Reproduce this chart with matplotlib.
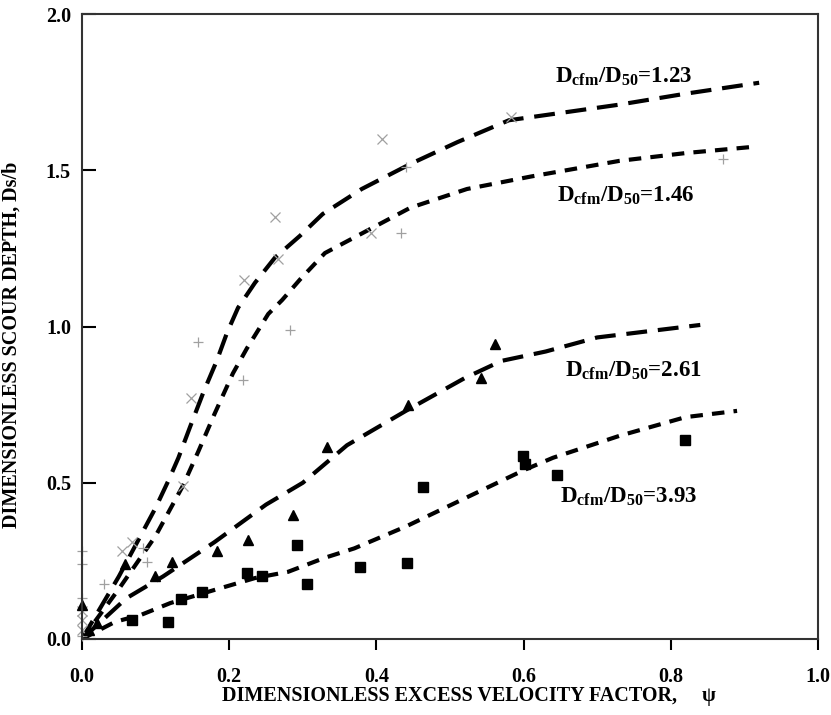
import matplotlib
matplotlib.use("Agg")
import matplotlib.pyplot as plt

plt.rcParams['font.family'] = ['Liberation Serif', 'DejaVu Serif']
plt.rcParams['font.weight'] = 'bold'
plt.rcParams['mathtext.fontset'] = 'custom'
plt.rcParams['mathtext.rm'] = 'Liberation Serif:bold'

# fitted curves, one per Dcfm/D50 ratio
c123_x = [0, 0.05, 0.10, 0.118, 0.131, 0.147, 0.165, 0.183, 0.197, 0.212, 0.235, 0.262,
          0.296, 0.327, 0.38, 0.446, 0.51, 0.58, 0.64, 0.73, 0.82, 0.92]
c123_y = [0, 0.20, 0.42, 0.51, 0.58, 0.68, 0.79, 0.89, 0.98, 1.06, 1.14, 1.22,
          1.29, 1.36, 1.44, 1.52, 1.59, 1.66, 1.68, 1.71, 1.745, 1.78]

c146_x = [0, 0.05, 0.10, 0.137, 0.158, 0.18, 0.205, 0.224, 0.253, 0.272, 0.296, 0.33,
          0.39, 0.446, 0.523, 0.61, 0.73, 0.82, 0.912]
c146_y = [0, 0.16, 0.33, 0.49, 0.60, 0.72, 0.85, 0.93, 1.04, 1.085, 1.15, 1.235,
          1.31, 1.38, 1.44, 1.48, 1.53, 1.555, 1.575]

c261_x = [0, 0.06, 0.11, 0.18, 0.25, 0.30, 0.36, 0.44, 0.52, 0.57, 0.63, 0.70, 0.77, 0.84]
c261_y = [0, 0.13, 0.20, 0.31, 0.43, 0.50, 0.62, 0.73, 0.835, 0.89, 0.92, 0.965, 0.985, 1.005]

c393_x = [0, 0.045, 0.08, 0.12, 0.18, 0.235, 0.28, 0.33, 0.37, 0.44, 0.52, 0.60,
          0.64, 0.73, 0.82, 0.89]
c393_y = [0, 0.055, 0.077, 0.115, 0.157, 0.195, 0.215, 0.26, 0.29, 0.36, 0.45, 0.54,
          0.58, 0.65, 0.71, 0.73]

# measured points
p123_x = [0, 0, 0, 0.054, 0.068, 0.137, 0.148, 0.22, 0.262, 0.266, 0.393, 0.408, 0.583]
p123_y = [0.03, 0.06, 0.09, 0.28, 0.31, 0.49, 0.77, 1.15, 1.35, 1.215, 1.30, 1.60, 1.67]

p146_x = [0, 0, 0, 0, 0.03, 0.083, 0.088, 0.158, 0.219, 0.283, 0.433, 0.44, 0.871]
p146_y = [0.01, 0.13, 0.24, 0.28, 0.176, 0.29, 0.246, 0.95, 0.83, 0.99, 1.30, 1.51, 1.535]

p261_x = [0, 0.01, 0.02, 0.058, 0.099, 0.122, 0.183, 0.226, 0.287, 0.333, 0.443, 0.542, 0.561]
p261_y = [0.11, 0.03, 0.05, 0.24, 0.20, 0.245, 0.28, 0.316, 0.397, 0.615, 0.75, 0.835, 0.945]

p393_x = [0.068, 0.117, 0.134, 0.163, 0.224, 0.245, 0.292, 0.306, 0.378, 0.441, 0.463,
          0.599, 0.602, 0.645, 0.819]
p393_y = [0.06, 0.055, 0.128, 0.15, 0.21, 0.20, 0.30, 0.176, 0.23, 0.243, 0.487,
          0.585, 0.56, 0.525, 0.637]

ratios = ['1.23', '1.46', '2.61', '3.93']
label_x = [0.643, 0.645, 0.656, 0.650]
label_y = [1.80, 1.42, 0.86, 0.455]

fig = plt.figure(figsize=(8.31, 7.15), dpi=100)
ax = fig.add_axes([0.0987, 0.1063, 0.8857, 0.8741])

long_dash = (0, (5, 2.6))
short_dash = (0, (3, 2.2))
ax.plot(c123_x, c123_y, color='black', lw=3, linestyle=long_dash)
ax.plot(c146_x, c146_y, color='black', lw=3, linestyle=short_dash)
ax.plot(c261_x, c261_y, color='black', lw=3, linestyle=long_dash)
ax.plot(c393_x, c393_y, color='black', lw=3, linestyle=short_dash)

ax.plot(p123_x, p123_y, 'x', color='#a0a0a0', ms=7, mew=0.9, clip_on=False)
ax.plot(p146_x, p146_y, '+', color='#a0a0a0', ms=7, mew=0.9, clip_on=False)
ax.plot(p261_x, p261_y, '^', color='black', ms=7, clip_on=False)
ax.plot(p393_x, p393_y, 's', color='black', ms=7, clip_on=False)

for r, lx, ly in zip(ratios, label_x, label_y):
    ax.text(lx, ly, r'D$_{\mathregular{cfm}}$/D$_{\mathregular{50}}$=' + r,
            fontsize=16.5, fontweight='bold', ha='left', va='center')

ax.set_xlim(0, 1.0)
ax.set_ylim(0, 2.0)
ax.set_xticks([0, 0.2, 0.4, 0.6, 0.8, 1.0])
ax.set_yticks([0, 0.5, 1.0, 1.5, 2.0])
ax.set_xticklabels(['0.0', '0.2', '0.4', '0.6', '0.8', '1.0'])
ax.set_yticklabels(['0.0', '0.5', '1.0', '1.5', '2.0'])
ax.tick_params(axis='x', direction='out', length=8, width=1.5, pad=12, labelsize=14.5)
ax.tick_params(axis='y', direction='in', length=10, width=1.5, pad=8, labelsize=14.5)
for s in ax.spines.values():
    s.set_linewidth(1.5)
    s.set_color('#333333')

ax.set_xlabel('DIMENSIONLESS EXCESS VELOCITY FACTOR,     \u03c8', fontsize=14.5,
              fontweight='bold', labelpad=2)
ax.xaxis.set_label_coords(0.526, -0.075)
ax.set_ylabel('DIMENSIONLESS SCOUR DEPTH, Ds/b', fontsize=14.5, fontweight='bold')
ax.yaxis.set_label_coords(-0.082, 0.47)

fig.savefig('out.png', dpi=100)
